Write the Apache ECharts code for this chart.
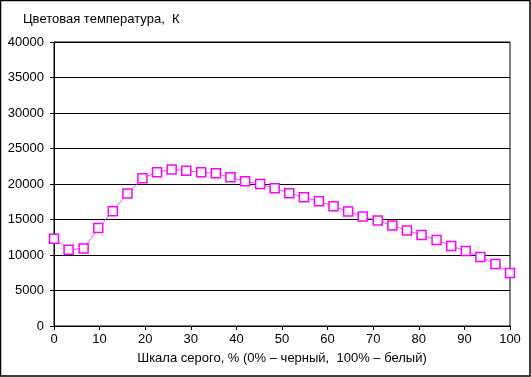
<!DOCTYPE html>
<html>
<head>
<meta charset="utf-8">
<script src="https://cdn.jsdelivr.net/npm/echarts@6/dist/echarts.min.js"></script>
<style>
  html, body { margin: 0; padding: 0; background: #fff; }
  #chart { width: 531px; height: 377px; }
</style>
</head>
<body>
<div id="chart"></div>
<script>
// grey scale, % (0 = black, 100 = white)
const greyLevels = [0, 3.2, 6.5, 9.7, 12.9, 16.1, 19.4, 22.6, 25.8, 29.0, 32.3, 35.5,
  38.7, 41.9, 45.2, 48.4, 51.6, 54.8, 58.1, 61.3, 64.5, 67.7, 71.0, 74.2,
  77.4, 80.6, 83.9, 87.1, 90.3, 93.5, 96.8, 100];
// colour temperature, K
const colourTemp = [12300, 10750, 10900, 13800, 16170, 18660, 20800, 21650, 22050, 21870, 21650, 21500,
  20940, 20380, 20000, 19390, 18680, 18120, 17560, 16850, 16130, 15430, 14860, 14150,
  13450, 12820, 12110, 11270, 10560, 9720, 8730, 7460];

const titleText = 'Цветовая температура,  К';
const xName = 'Шкала серого, % (0% – черный,  100% – белый)';

const font = 'Arial, "Liberation Sans", sans-serif';
const chart = echarts.init(document.getElementById('chart'));

chart.setOption({
  animation: false,
  backgroundColor: '#fff',
  graphic: [
    {
      type: 'rect',
      shape: { x: 0.5, y: 0.5, width: 529.5, height: 375.5 },
      style: { fill: 'none', stroke: '#000', lineWidth: 1.5 }
    },
    {
      type: 'text',
      left: 23,
      top: 13,
      style: { text: titleText, font: '13px ' + font, fill: '#000' }
    }
  ],
  grid: {
    left: 54,
    top: 42,
    right: 21,
    bottom: 51,
    show: true,
    borderColor: '#000',
    borderWidth: 1,
    backgroundColor: 'transparent'
  },
  xAxis: {
    type: 'value',
    min: 0,
    max: 100,
    interval: 10,
    name: xName,
    nameLocation: 'middle',
    nameGap: 26,
    nameTextStyle: { color: '#000', fontFamily: font, fontSize: 13 },
    axisLine: { show: true, lineStyle: { color: '#000', width: 1 } },
    axisTick: { show: true, inside: false, length: 4, lineStyle: { color: '#000' } },
    axisLabel: { color: '#000', fontFamily: font, fontSize: 13, margin: 7 },
    splitLine: { show: false }
  },
  yAxis: {
    type: 'value',
    min: 0,
    max: 40000,
    interval: 5000,
    axisLine: { show: true, lineStyle: { color: '#000', width: 1 } },
    axisTick: { show: true, inside: false, length: 4, lineStyle: { color: '#000' } },
    axisLabel: { color: '#000', fontFamily: font, fontSize: 13, margin: 10, formatter: v => String(v) },
    splitLine: { show: true, lineStyle: { color: '#000', width: 1 } }
  },
  series: [{
    type: 'line',
    data: greyLevels.map((x, i) => [x, colourTemp[i]]),
    symbol: 'rect',
    symbolSize: 9,
    showAllSymbol: true,
    lineStyle: { color: '#ff44ff', width: 1 },
    itemStyle: { color: '#fff', borderColor: '#ff00ff', borderWidth: 1.5 }
  }]
});
</script>
</body>
</html>
